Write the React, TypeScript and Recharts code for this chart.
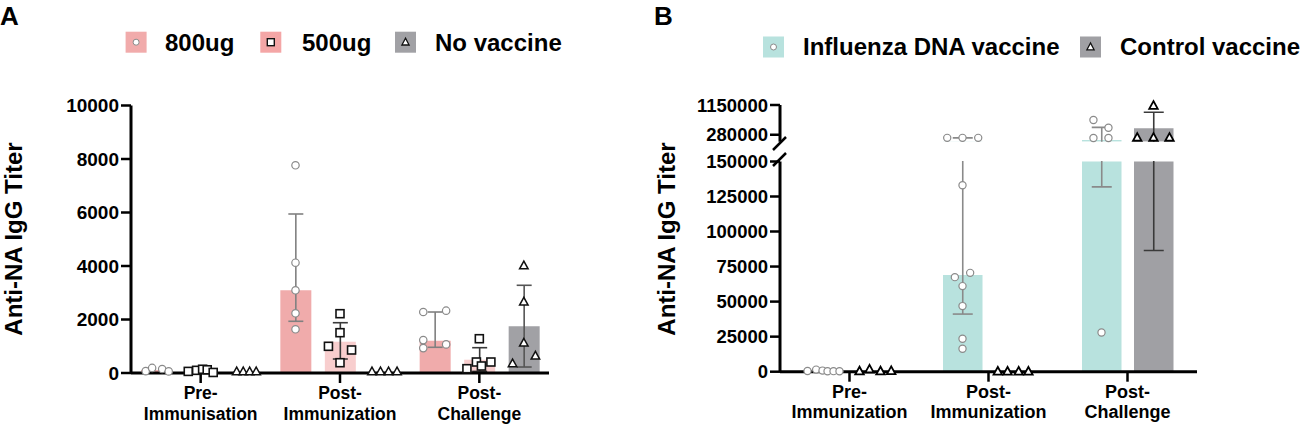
import React from 'react';
import { ComposedChart, Bar, Scatter, XAxis, YAxis, ErrorBar } from 'recharts';

const FONT = '"Liberation Sans", Arial, Helvetica, sans-serif';

// ---------- Panel A data ----------
const catsA = ['Pre-|Immunisation', 'Post-|Immunization', 'Post-|Challenge'];
const ticksA = [0, 2000, 4000, 6000, 8000, 10000];
const a800 = [110, 3090, 1210];
const a800Low = [null, 1933, 961];
const a800High = [null, 5944, 2280];
const a500 = [80, 1170, 497];
const a500Low = [null, 523, 60];
const a500High = [null, 1880, 946];
const aNone = [10, 10, 1746];
const aNoneLow = [null, null, 224];
const aNoneHigh = [null, null, 3279];

// points: [category index, jitter (category units), titer]
const p800 = [
  [0, -0.075, 70], [0, -0.029, 190], [0, 0.043, 150], [0, 0.09, 60],
  [1, 0, 7765], [1, 0, 4123], [1, 0, 3091], [1, 0, 2232], [1, 0, 1634],
  [2, -0.083, 2280], [2, -0.083, 1230], [2, -0.083, 930], [2, 0.081, 2330], [2, 0.081, 1070],
];
const p500 = [
  [0, -0.089, 60], [0, -0.029, 100], [0, 0.014, 140], [0, 0.047, 120], [0, 0.09, 20],
  [1, 0, 2217], [1, 0, 1507], [1, -0.083, 998], [1, 0.083, 860], [1, 0, 385],
  [2, 0, 1282], [2, -0.089, 161], [2, -0.021, 411], [2, 0.015, 262], [2, 0.083, 411],
];
const pNone = [
  [0, -0.061, 50], [0, -0.014, 50], [0, 0.032, 50], [0, 0.079, 50],
  [1, -0.09, 50], [1, -0.029, 50], [1, 0.029, 50], [1, 0.09, 50],
  [2, 0, 4011], [2, 0, 2654], [2, 0, 1121], [2, 0.083, 636], [2, -0.081, 348],
];

// ---------- Panel B data ----------
const catsB = ['Pre-|Immunization', 'Post-|Immunization', 'Post-|Challenge'];
const ticksBLow = [0, 25000, 50000, 75000, 100000, 125000, 150000];
const ticksBHigh = [280000, 1150000];
const bFlu = [400, 69000, 216000];
const bFluLow = [null, 41100, 131800];
const bFluHigh = [null, 240000, 395000];
const bCtrl = [500, 100, 379000];
const bCtrlLow = [null, null, 86500];
const bCtrlHigh = [null, null, 812000];

const pFlu = [
  [0, -0.115, 500], [0, -0.053, 1500], [0, -0.007, 800], [0, 0.029, 300], [0, 0.072, 400], [0, 0.115, 300],
  [1, -0.11, 240000], [1, 0, 240000], [1, 0.113, 240000], [1, 0, 133000], [1, 0.055, 70500],
  [1, -0.055, 67450], [1, 0, 61040], [1, 0, 46800], [1, 0, 23500], [1, 0, 16400],
  [2, 0, 28000], [2, -0.058, 239000], [2, 0.05, 239000], [2, 0.05, 390000], [2, -0.058, 562000],
];
const pCtrl = [
  [0, -0.115, 300], [0, -0.043, 1600], [0, 0.036, 300], [0, 0.113, 500],
  [1, -0.12, 100], [1, -0.05, 100], [1, 0.03, 100], [1, 0.1, 100],
  [2, -0.117, 242000], [2, 0, 242000], [2, 0.115, 242000], [2, 0, 1111000],
];

const LOW_MAX = 150000;
const HIGH_MIN = 200000;
const HIGH_MAX = 1150000;

// ---------- helpers ----------
const err = (v, lo, hi) => (lo == null ? undefined : [v - lo, hi - v]);

const rowsA = catsA.map((cat, i) => ({
  cat,
  v800: a800[i], e800: err(a800[i], a800Low[i], a800High[i]),
  v500: a500[i], e500: err(a500[i], a500Low[i], a500High[i]),
  vNone: aNone[i], eNone: err(aNone[i], aNoneLow[i], aNoneHigh[i]),
}));
const rowsB = catsB.map((cat, i) => ({
  cat,
  vFlu: bFlu[i], eFlu: err(bFlu[i], bFluLow[i], bFluHigh[i]),
  vCtrl: bCtrl[i], eCtrl: err(bCtrl[i], bCtrlLow[i], bCtrlHigh[i]),
}));
// upper (broken) segment only shows bars / whiskers that reach it
const reaches = (v, hi) => v >= HIGH_MIN || (hi != null && hi >= HIGH_MIN);
const rowsBUpper = catsB.map((cat, i) => ({
  cat,
  vFlu: reaches(bFlu[i], bFluHigh[i]) ? bFlu[i] : null,
  eFlu: err(bFlu[i], bFluLow[i], bFluHigh[i]),
  vCtrl: reaches(bCtrl[i], bCtrlHigh[i]) ? bCtrl[i] : null,
  eCtrl: err(bCtrl[i], bCtrlLow[i], bCtrlHigh[i]),
}));

const SLOT_A = 0.3194;
const SLOT_B = 0.187;
const toPts = (pts, slot) => pts.map(([g, j, v]) => ({ x: g + slot + j, y: v }));

const circleShape = (r, stroke, sw) => (p) =>
  p.cx == null ? null : <circle cx={p.cx} cy={p.cy} r={r} fill="#fff" stroke={stroke} strokeWidth={sw} />;
const squareShape = (s, stroke, sw) => (p) =>
  p.cx == null ? null : <rect x={p.cx - s / 2} y={p.cy - s / 2} width={s} height={s} fill="#fff" stroke={stroke} strokeWidth={sw} />;
const triShape = (s, stroke, sw) => (p) => {
  if (p.cx == null) return null;
  const h = s * 0.9;
  const pts = `${p.cx},${p.cy - h * 0.6} ${p.cx - s / 2},${p.cy + h * 0.4} ${p.cx + s / 2},${p.cy + h * 0.4}`;
  return <polygon points={pts} fill="#fff" stroke={stroke} strokeWidth={sw} strokeLinejoin="miter" />;
};

const CatTick = (props) => {
  const { x, y, payload, fs } = props;
  const [l1, l2] = String(payload.value).split('|');
  return (
    <text x={x} y={y} textAnchor="middle" fontFamily={FONT} fontWeight={700} fontSize={fs} fill="#000">
      <tspan x={x} dy={14}>{l1}</tspan>
      <tspan x={x} dy={20.5}>{l2}</tspan>
    </text>
  );
};

const axisLine = { stroke: '#000', strokeWidth: 3 };
const tickLine = { stroke: '#000', strokeWidth: 2.5 };

const C800 = '#F0ABAB';
const C500 = '#F8CECE';
const CNONE = '#A1A1A5';
const CFLU = '#B8E2DE';
const CCTRL = '#A0A0A4';

function PanelA() {
  return (
    <div style={{ position: 'absolute', left: 0, top: 0 }}>
      <ComposedChart width={560} height={425} data={rowsA} barSize={31} barGap={13.5}
        margin={{ top: 105.5, right: 11, bottom: 7, left: 61 }}>
        <XAxis xAxisId="cat" dataKey="cat" type="category" height={45} interval={0} tickSize={10}
          axisLine={axisLine} tickLine={tickLine} tick={(p) => <CatTick {...p} fs={17.5} />} />
        <XAxis xAxisId="num" dataKey="x" type="number" domain={[-0.5, 2.5]} hide />
        <YAxis yAxisId="y" type="number" domain={[0, 10000]} ticks={ticksA} width={70} tickSize={10}
          axisLine={axisLine} tickLine={tickLine} interval={0}
          tick={{ fill: '#000', fontSize: 19, fontWeight: 700, fontFamily: FONT }} />
        <Bar xAxisId="cat" yAxisId="y" dataKey="v800" fill={C800} isAnimationActive={false}>
          <ErrorBar dataKey="e800" direction="y" width={7.5} stroke="#808080" strokeWidth={1.6} />
        </Bar>
        <Bar xAxisId="cat" yAxisId="y" dataKey="v500" fill={C500} isAnimationActive={false}>
          <ErrorBar dataKey="e500" direction="y" width={7.5} stroke="#3a3a3a" strokeWidth={1.6} />
        </Bar>
        <Bar xAxisId="cat" yAxisId="y" dataKey="vNone" fill={CNONE} isAnimationActive={false}>
          <ErrorBar dataKey="eNone" direction="y" width={7.5} stroke="#555" strokeWidth={1.6} />
        </Bar>
        <Scatter xAxisId="num" yAxisId="y" data={toPts(p800, -SLOT_A)} dataKey="y"
          shape={circleShape(3.7, '#8a8a8a', 1.2)} isAnimationActive={false} />
        <Scatter xAxisId="num" yAxisId="y" data={toPts(p500, 0)} dataKey="y"
          shape={squareShape(8, '#111', 1.6)} isAnimationActive={false} />
        <Scatter xAxisId="num" yAxisId="y" data={toPts(pNone, SLOT_A)} dataKey="y"
          shape={triShape(8.5, '#111', 1.5)} isAnimationActive={false} />
      </ComposedChart>
    </div>
  );
}

const bTick = { fill: '#000', fontSize: 18.5, fontWeight: 700, fontFamily: FONT };
const fluShape = circleShape(3.6, '#8a8a8a', 1.2);
const ctrlShape = triShape(8.5, '#000', 1.8);

function PanelBLower() {
  const fluPts = toPts(pFlu, -SLOT_B).filter((d) => d.y <= LOW_MAX);
  const ctrlPts = toPts(pCtrl, SLOT_B).filter((d) => d.y <= LOW_MAX);
  return (
    <div style={{ position: 'absolute', left: 650, top: 0, width: 560, height: 425,
      clipPath: 'polygon(0px 146px, 132px 146px, 132px 161px, 560px 161px, 560px 425px, 0px 425px)' }}>
      <ComposedChart width={560} height={425} data={rowsB} barSize={39.5} barGap={12.5}
        margin={{ top: 161.4, right: 13, bottom: 8.3, left: 60 }}>
        <XAxis xAxisId="cat" dataKey="cat" type="category" height={45} interval={0} tickSize={10}
          axisLine={axisLine} tickLine={tickLine} tick={(p) => <CatTick {...p} fs={18} />} />
        <XAxis xAxisId="num" dataKey="x" type="number" domain={[-0.5, 2.5]} hide />
        <YAxis yAxisId="y" type="number" domain={[0, LOW_MAX]} allowDataOverflow ticks={ticksBLow}
          width={70} tickSize={10} interval={0} axisLine={axisLine} tickLine={tickLine} tick={bTick} />
        <YAxis yAxisId="pts" orientation="right" width={0} type="number" domain={[0, LOW_MAX]} hide />
        <Bar xAxisId="cat" yAxisId="y" dataKey="vFlu" fill={CFLU} isAnimationActive={false}>
          <ErrorBar dataKey="eFlu" direction="y" width={10} stroke="#8a8a8a" strokeWidth={1.6} />
        </Bar>
        <Bar xAxisId="cat" yAxisId="y" dataKey="vCtrl" fill={CCTRL} isAnimationActive={false}>
          <ErrorBar dataKey="eCtrl" direction="y" width={10} stroke="#3a3a3a" strokeWidth={1.6} />
        </Bar>
        <Scatter xAxisId="num" yAxisId="pts" data={fluPts} dataKey="y" shape={fluShape} isAnimationActive={false} />
        <Scatter xAxisId="num" yAxisId="pts" data={ctrlPts} dataKey="y" shape={ctrlShape} isAnimationActive={false} />
      </ComposedChart>
    </div>
  );
}

function PanelBUpper() {
  return (
    <div style={{ position: 'absolute', left: 650, top: 0, width: 560, height: 160,
      clipPath: 'polygon(0px 0px, 560px 0px, 560px 141.7px, 132px 141.7px, 132px 160px, 0px 160px)' }}>
      <ComposedChart width={560} height={160} data={rowsBUpper} barSize={39.5} barGap={12.5}
        margin={{ top: 105, right: 13, bottom: 18.3, left: 60 }}>
        <XAxis xAxisId="cat" dataKey="cat" type="category" hide />
        <YAxis yAxisId="y" type="number" scale="log" domain={[HIGH_MIN, HIGH_MAX]} allowDataOverflow
          ticks={ticksBHigh} width={70} tickSize={10} interval={0} axisLine={axisLine} tickLine={tickLine} tick={bTick} />
        <Bar xAxisId="cat" yAxisId="y" dataKey="vFlu" fill={CFLU} isAnimationActive={false}>
          <ErrorBar dataKey="eFlu" direction="y" width={10} stroke="#8a8a8a" strokeWidth={1.6} />
        </Bar>
        <Bar xAxisId="cat" yAxisId="y" dataKey="vCtrl" fill={CCTRL} isAnimationActive={false}>
          <ErrorBar dataKey="eCtrl" direction="y" width={10} stroke="#3a3a3a" strokeWidth={1.6} />
        </Bar>
      </ComposedChart>
    </div>
  );
}

function PanelBUpperPoints() {
  const fluPts = toPts(pFlu, -SLOT_B).filter((d) => d.y >= HIGH_MIN);
  const ctrlPts = toPts(pCtrl, SLOT_B).filter((d) => d.y >= HIGH_MIN);
  return (
    <div style={{ position: 'absolute', left: 650, top: 0 }}>
      <ComposedChart width={560} height={160} margin={{ top: 105, right: 13, bottom: 18.3, left: 130 }}>
        <XAxis xAxisId="num" dataKey="x" type="number" domain={[-0.5, 2.5]} hide />
        <YAxis yAxisId="pts" type="number" scale="log" domain={[HIGH_MIN, HIGH_MAX]} hide />
        <Scatter xAxisId="num" yAxisId="pts" data={fluPts} dataKey="y" shape={fluShape} isAnimationActive={false} />
        <Scatter xAxisId="num" yAxisId="pts" data={ctrlPts} dataKey="y" shape={ctrlShape} isAnimationActive={false} />
      </ComposedChart>
    </div>
  );
}

const legendA = [
  { label: '800ug', color: '#F1ABAB', glyph: 'circle', sx: 125.6, tx: 165 },
  { label: '500ug', color: '#F4A6A6', glyph: 'square', sx: 260.3, tx: 302 },
  { label: 'No vaccine', color: '#A1A1A5', glyph: 'tri', sx: 395, tx: 435 },
];
const legendB = [
  { label: 'Influenza DNA vaccine', color: CFLU, glyph: 'circle', sx: 763, tx: 803 },
  { label: 'Control vaccine', color: CCTRL, glyph: 'tri', sx: 1080, tx: 1120 },
];

function Glyph({ kind, cx, cy }) {
  if (kind === 'circle') return <circle cx={cx} cy={cy} r={3} fill="#fff" stroke="#8a8a8a" strokeWidth={1} />;
  if (kind === 'square') return <rect x={cx - 3.5} y={cy - 3.5} width={7} height={7} fill="#fff" stroke="#111" strokeWidth={1.4} />;
  return <polygon points={`${cx},${cy - 4} ${cx - 3.6},${cy + 2.8} ${cx + 3.6},${cy + 2.8}`} fill="#fff" stroke="#111" strokeWidth={1.3} />;
}

function Overlay() {
  const txt = { fontFamily: FONT, fontWeight: 700, fill: '#000' };
  return (
    <svg width={1301} height={425} style={{ position: 'absolute', left: 0, top: 0, pointerEvents: 'none' }}>
      <text x={0} y={25} fontSize={26} {...txt}>A</text>
      <text x={654} y={25} fontSize={26} {...txt}>B</text>
      <text transform="translate(22,239) rotate(-90)" textAnchor="middle" fontSize={24} {...txt}>Anti-NA IgG Titer</text>
      <text transform="translate(675,239) rotate(-90)" textAnchor="middle" fontSize={24} {...txt}>Anti-NA IgG Titer</text>
      {legendA.map((d) => (
        <g key={d.label}>
          <rect x={d.sx} y={31.7} width={21} height={21} fill={d.color} />
          <Glyph kind={d.glyph} cx={d.sx + 10.5} cy={42.2} />
          <text x={d.tx} y={50.5} fontSize={24} {...txt}>{d.label}</text>
        </g>
      ))}
      {legendB.map((d) => (
        <g key={d.label}>
          <rect x={d.sx} y={36.5} width={21} height={21} fill={d.color} />
          <Glyph kind={d.glyph} cx={d.sx + 10.5} cy={47} />
          <text x={d.tx} y={55} fontSize={24} {...txt}>{d.label}</text>
        </g>
      ))}
      <line x1={773} y1={150} x2={786} y2={137} stroke="#000" strokeWidth={2.5} />
      <line x1={773} y1={166} x2={786} y2={153} stroke="#000" strokeWidth={2.5} />
    </svg>
  );
}

export default function App() {
  return (
    <div style={{ position: 'absolute', left: 0, top: 0, width: 1301, height: 425, background: '#fff', overflow: 'hidden', fontFamily: FONT }}>
      <PanelA />
      <PanelBLower />
      <PanelBUpper />
      <PanelBUpperPoints />
      <Overlay />
    </div>
  );
}
